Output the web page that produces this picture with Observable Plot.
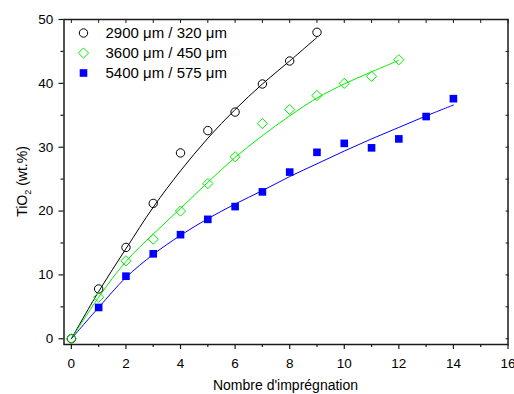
<!DOCTYPE html>
<html><head><meta charset="utf-8">
<script src="https://cdn.jsdelivr.net/npm/d3@7"></script>
<script src="https://cdn.jsdelivr.net/npm/@observablehq/plot@0.6"></script>
<style>body{margin:0;background:#fff;} #chart{width:514px;height:394px;}</style>
</head><body><div id="chart"></div>
<script>
// ---- data ----
const seriesLabels = ["2900 μm / 320 μm", "3600 μm / 450 μm", "5400 μm / 575 μm"];
const x_2900 = [0, 1, 2, 3, 4, 5, 6, 7, 8, 9];
const tio2_2900 = [0, 7.8, 14.3, 21.2, 29.1, 32.6, 35.5, 39.9, 43.5, 48.0];
const x_3600 = [0, 1, 2, 3, 4, 5, 6, 7, 8, 9, 10, 11, 12];
const tio2_3600 = [0, 6.5, 12.2, 15.6, 20.0, 24.3, 28.5, 33.7, 35.9, 38.1, 40.0, 41.1, 43.7];
const x_5400 = [1, 2, 3, 4, 5, 6, 7, 8, 9, 10, 11, 12, 13, 14];
const tio2_5400 = [4.9, 9.8, 13.3, 16.3, 18.7, 20.7, 23.0, 26.1, 29.2, 30.6, 29.9, 31.3, 34.8, 37.6];
// fitted curves
const fitX_2900 = [0, 1, 2, 3, 4, 5, 6, 7, 8, 9];
const fit_2900 = [0, 7.4, 14.1, 20.6, 26.3, 31.4, 35.9, 39.9, 43.5, 47.2];
const fitX_3600 = [0, 1, 2, 3, 4, 5, 6, 7, 8, 9, 10, 11, 12];
const fit_3600 = [0, 6.5, 12.1, 16.4, 20.4, 24.5, 28.4, 31.8, 34.9, 37.7, 39.9, 41.8, 43.6];
const fitX_5400 = [0, 1, 2, 3, 4, 5, 6, 7, 8, 9, 10, 11, 12, 13, 14];
const fit_5400 = [0, 4.9, 9.6, 13.2, 16.2, 18.8, 21.1, 23.2, 25.4, 27.4, 29.4, 31.3, 33.1, 34.9, 36.6];
const xTicks = [0, 2, 4, 6, 8, 10, 12, 14, 16];
const yTicks = [0, 10, 20, 30, 40, 50];
const xTitle = "Nombre d'imprégnation";

// ---- build tables ----
const pts = (xs, ys) => xs.map((x, i) => ({x, y: ys[i]}));
const p1 = pts(x_2900, tio2_2900), p2 = pts(x_3600, tio2_3600), p3 = pts(x_5400, tio2_5400);
const f1 = pts(fitX_2900, fit_2900), f2 = pts(fitX_3600, fit_3600), f3 = pts(fitX_5400, fit_5400);

const BLACK = "#000000", GREEN = "#00ee00", BLUE = "#0000ff";
const AX = "#1a1a1a";
const symbols = [
  {symbol: "circle", stroke: BLACK, fill: "none", r: 4.2},
  {symbol: "diamond2", stroke: GREEN, fill: "none", r: 4.6},
  {symbol: "square", stroke: "none", fill: BLUE, r: 4.3}
];

const legendMarks = [];
seriesLabels.forEach((lab, i) => {
  const s = symbols[i];
  legendMarks.push(Plot.dot([0], {frameAnchor: "top-left", dx: 19.5, dy: 13.5 + 20 * i,
    symbol: s.symbol, stroke: s.stroke, fill: s.fill, r: s.r, strokeWidth: 1}));
  legendMarks.push(Plot.text([lab], {frameAnchor: "top-left", dx: 41.5, dy: 13.5 + 20 * i,
    text: d => d, textAnchor: "start", lineAnchor: "middle", fontSize: 15, fill: "#000"}));
});

const plot = Plot.plot({
  width: 514, height: 394,
  marginLeft: 63.5, marginRight: 6.5, marginTop: 19, marginBottom: 50,
  style: {fontFamily: "'Liberation Sans', Arial, sans-serif", fontSize: "13.5px", color: "#000", background: "#fff"},
  x: {domain: [-0.27, 16], label: null},
  y: {domain: [-0.9, 50], label: null},
  marks: [
    Plot.axisX({ticks: xTicks, tickSize: 5, tickPadding: 9.4, label: null, stroke: AX, strokeWidth: 1.2, fontSize: 13.5}),
    Plot.axisX({ticks: d3.range(1, 16, 2), tickSize: 3, text: null, label: null, stroke: AX, strokeWidth: 1.2}),
    Plot.axisX({anchor: "top", ticks: d3.range(0, 17, 1), tickSize: -3, text: null, label: null, stroke: AX, strokeWidth: 1}),
    Plot.axisY({ticks: yTicks, tickSize: 5, tickPadding: 5.8, label: null, stroke: AX, strokeWidth: 1.2, fontSize: 13.5}),
    Plot.axisY({ticks: d3.range(5, 50, 10), tickSize: 3, text: null, label: null, stroke: AX, strokeWidth: 1.2}),
    Plot.axisY({anchor: "right", ticks: d3.range(0, 51, 5), tickSize: -3, text: null, label: null, stroke: AX, strokeWidth: 1}),
    Plot.frame({stroke: AX, strokeWidth: 1.5}),
    Plot.line(f1, {x: "x", y: "y", stroke: BLACK, strokeWidth: 1, curve: "catmull-rom"}),
    Plot.line(f2, {x: "x", y: "y", stroke: GREEN, strokeWidth: 1, curve: "catmull-rom"}),
    Plot.line(f3, {x: "x", y: "y", stroke: BLUE, strokeWidth: 1, curve: "catmull-rom"}),
    Plot.dot(p1, {x: "x", y: "y", ...symbols[0], strokeWidth: 1}),
    Plot.dot(p2, {x: "x", y: "y", ...symbols[1], strokeWidth: 1}),
    Plot.dot(p3, {x: "x", y: "y", ...symbols[2], strokeWidth: 1}),
    ...legendMarks
  ]
});

const svg = d3.select(plot);
// x axis title
svg.append("text")
  .attr("x", (63.5 + 507.5) / 2).attr("y", 390)
  .attr("text-anchor", "middle")
  .attr("font-size", 14).attr("fill", "#000")
  .text(xTitle);
// y axis title with subscript
const yt = svg.append("text")
  .attr("transform", `translate(27,${(19 + 344) / 2}) rotate(-90)`)
  .attr("text-anchor", "middle")
  .attr("font-size", 14).attr("fill", "#000");
yt.append("tspan").text("TiO");
yt.append("tspan").attr("font-size", 9).attr("dy", 4).text("2");
yt.append("tspan").attr("dy", -4).text(" (wt.%)");

document.getElementById("chart").appendChild(plot);
</script>
</body></html>
